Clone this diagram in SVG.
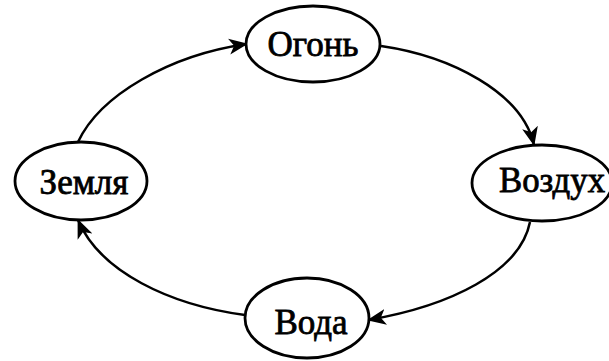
<svg xmlns="http://www.w3.org/2000/svg" width="609" height="361" viewBox="0 0 609 361">
<style>
.n{fill:#fff;stroke:#000;stroke-width:2.8}
.t{font-family:"Liberation Serif","Times New Roman",serif;font-size:35px;fill:#000;text-anchor:middle;stroke:#000;stroke-width:0.8}
.c{fill:none;stroke:#000;stroke-width:2.5}
</style>
<defs>
<marker id="ah" markerUnits="userSpaceOnUse" markerWidth="22" markerHeight="20" refX="18" refY="10" orient="auto">
<path d="M0 2 L19 10 L0 18 L5 10 Z" fill="#000"/>
</marker>
</defs>
<rect width="609" height="361" fill="#fff"/>
<g id="connectors">
<path class="c" d="M78 142 C100 95 170 55 247 44" marker-end="url(#ah)"/>
<path class="c" d="M381 46 C450 56 522 92 534 145" marker-end="url(#ah)"/>
<path class="c" d="M530 222 C520 272 450 306 368 320" marker-end="url(#ah)"/>
<path class="c" d="M245 315 C170 305 100 272 78 220" marker-end="url(#ah)"/>
</g>
<g id="ogon">
<ellipse class="n" cx="313" cy="44" rx="67" ry="38"/>
<text class="t" x="313" y="56">Огонь</text>
</g>
<g id="vozdukh">
<ellipse class="n" cx="542" cy="183" rx="70" ry="38"/>
<text class="t" x="552" y="192" textLength="106" lengthAdjust="spacingAndGlyphs">Воздух</text>
</g>
<g id="voda">
<ellipse class="n" cx="307" cy="318" rx="62" ry="40"/>
<text class="t" x="311" y="334">Вода</text>
</g>
<g id="zemlya">
<ellipse class="n" cx="81" cy="181" rx="66" ry="39"/>
<text class="t" x="84" y="194">Земля</text>
</g>
</svg>
